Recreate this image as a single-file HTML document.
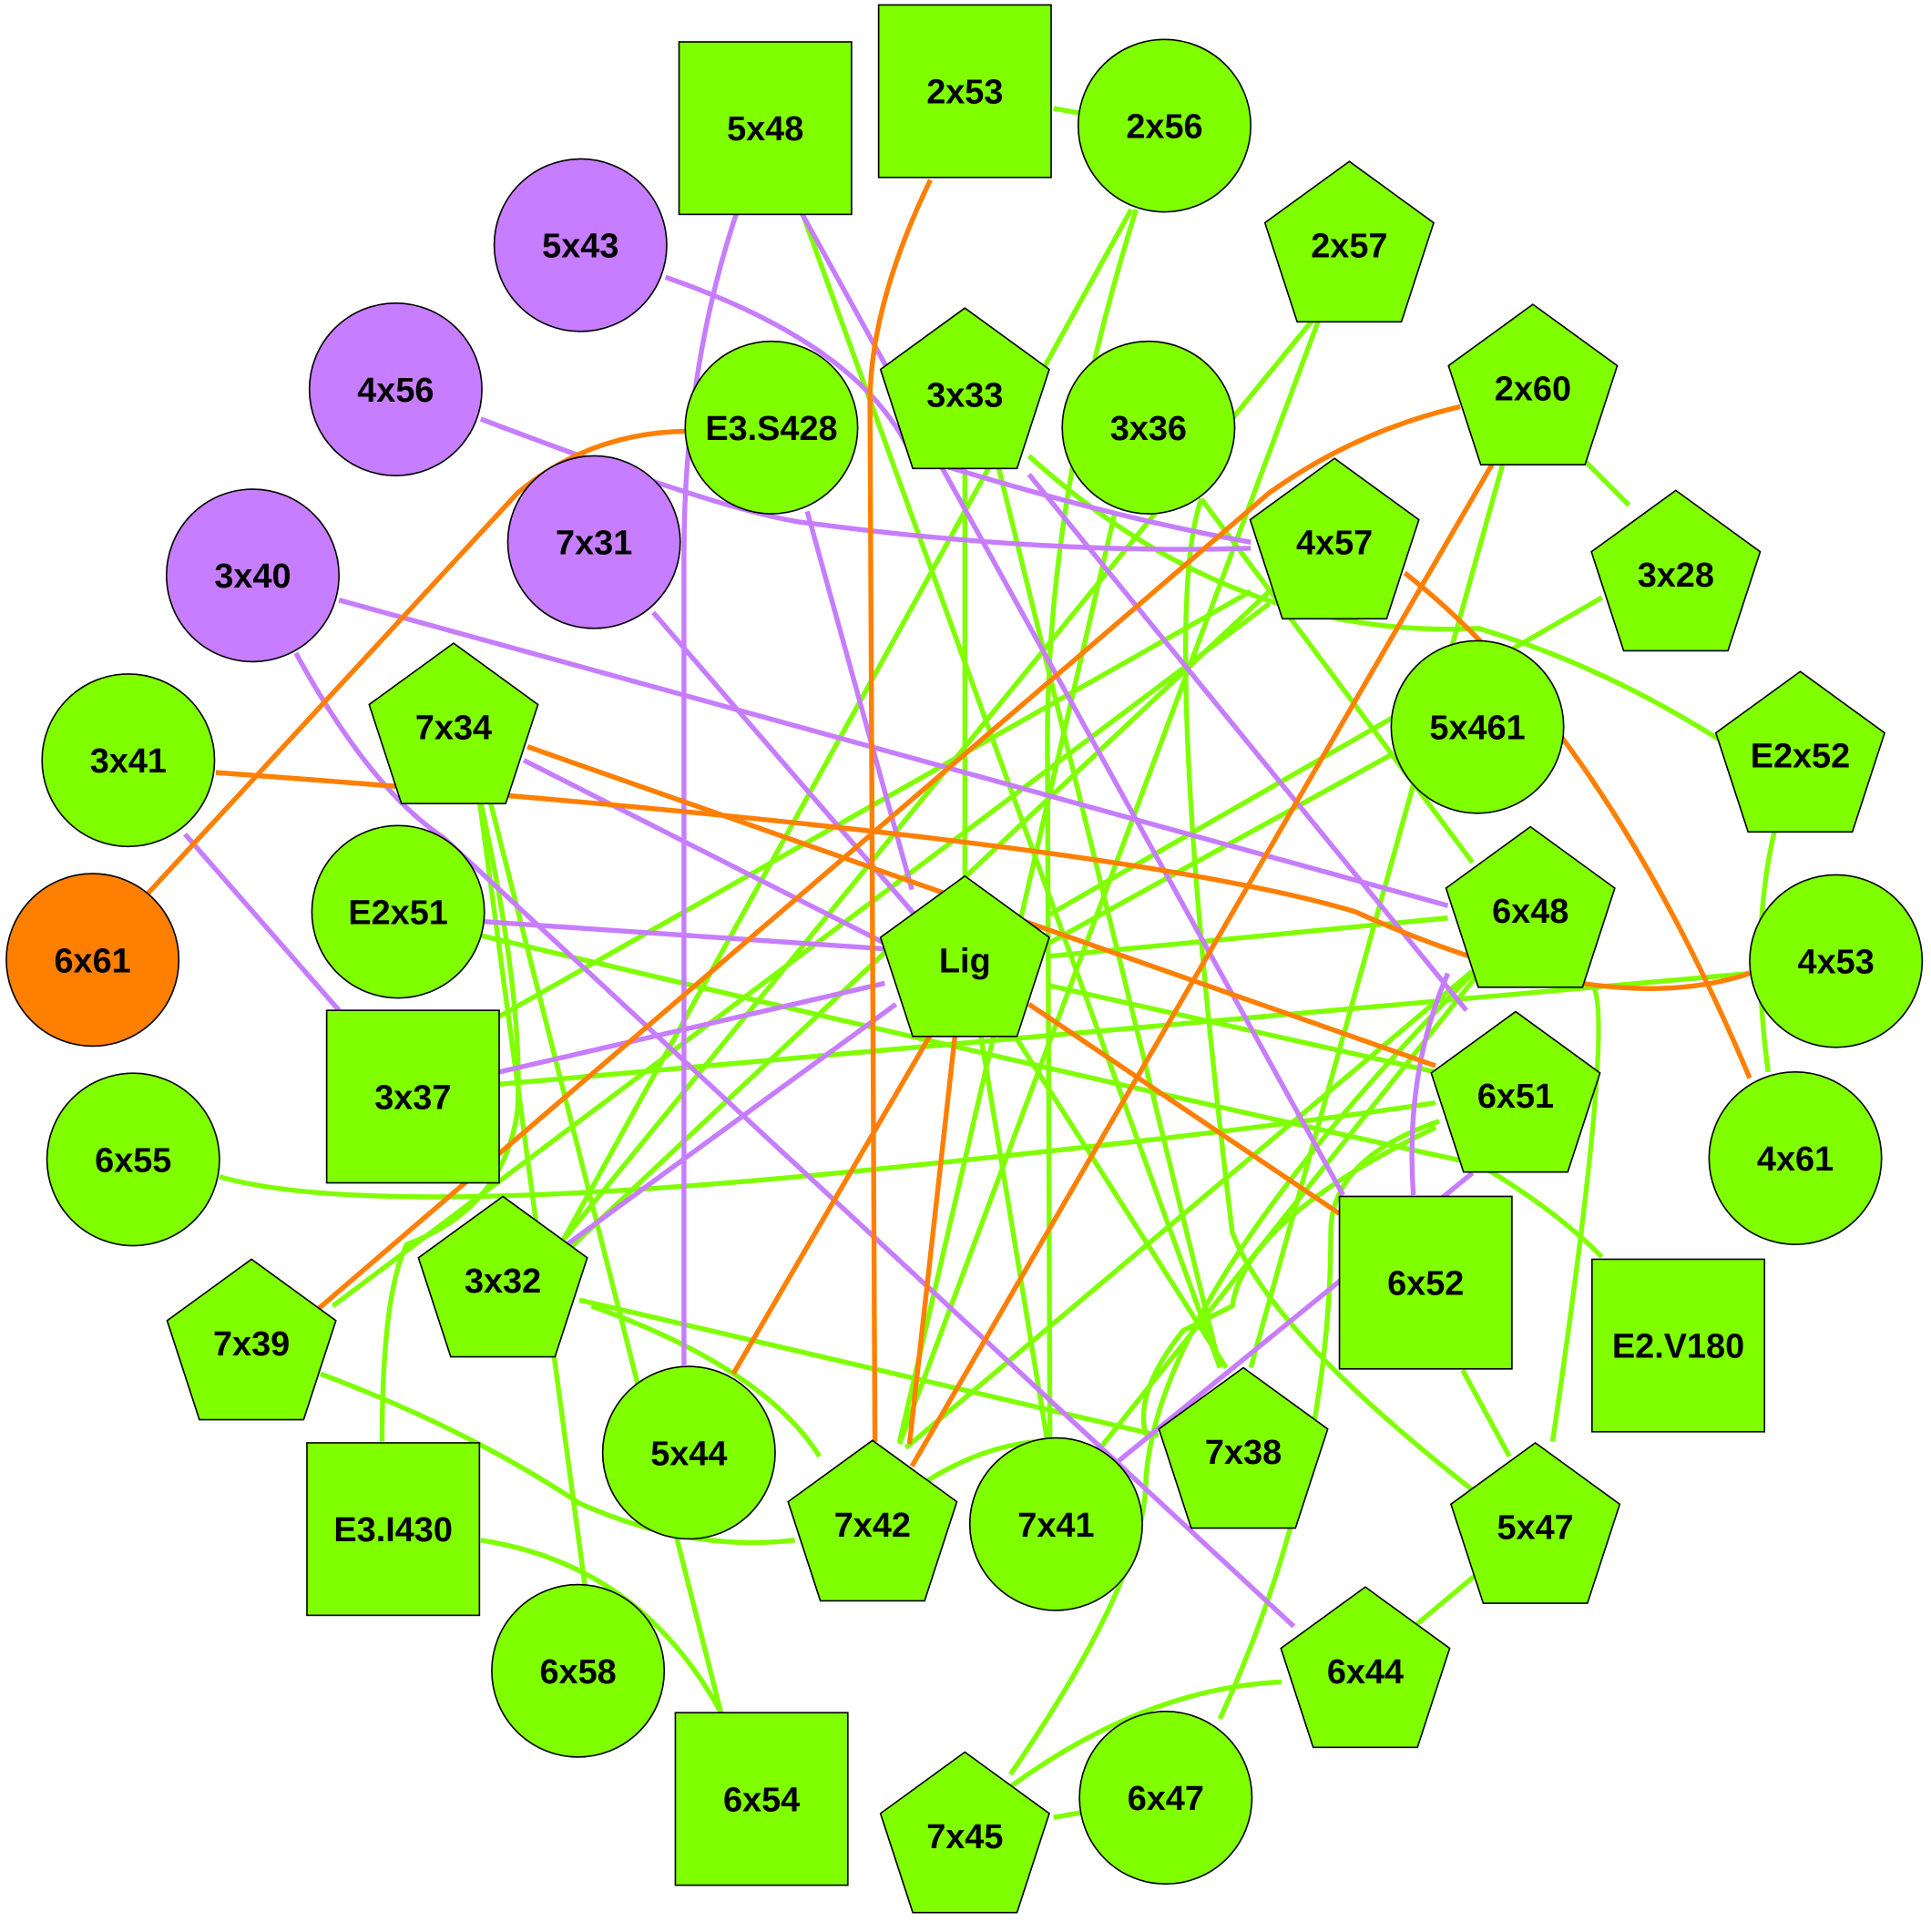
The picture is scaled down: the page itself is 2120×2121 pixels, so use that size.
<!DOCTYPE html>
<html><head><meta charset="utf-8"><style>html,body{margin:0;padding:0;background:#fff}svg{display:block}</style></head><body>
<svg width="2120" height="2121" viewBox="0 0 1567 1568" xmlns="http://www.w3.org/2000/svg">
<g fill="none" stroke-width="4">
<g stroke="#7fff00">
<path d="M855,88 L878,92"/>
<path d="M918,170 L455,1010"/>
<path d="M922,170 Q850,400 850,600 Q850,900 852,1168"/>
<path d="M1070,260 L730,1172"/>
<path d="M1065,260 L450,1015"/>
<path d="M1285,373 L1322,410"/>
<path d="M1220,375 L1015,1110"/>
<path d="M783,378 L783,712"/>
<path d="M810,378 L990,1110"/>
<path d="M835,370 Q1000,520 1200,510 Q1300,540 1395,600"/>
<path d="M905,415 L730,1170"/>
<path d="M975,405 L1195,700"/>
<path d="M1030,480 L455,1020"/>
<path d="M1015,480 L405,825"/>
<path d="M1300,485 L852,742"/>
<path d="M1130,612 L852,765"/>
<path d="M1175,745 L852,776"/>
<path d="M1195,788 L735,1175"/>
<path d="M1200,790 L885,1185"/>
<path d="M1293,800 Q1310,830 1260,1170"/>
<path d="M1420,790 L405,880"/>
<path d="M1440,675 Q1420,760 1435,870"/>
<path d="M852,800 L1165,870"/>
<path d="M795,835 L850,1170"/>
<path d="M820,835 L995,1110"/>
<path d="M650,170 L990,1110"/>
<path d="M385,758 Q900,880 1200,945 Q1260,980 1300,1020"/>
<path d="M178,955 Q300,990 700,950 Q1000,920 1165,895"/>
<path d="M1168,910 Q1080,940 1080,1000 Q1080,1200 990,1395"/>
<path d="M1165,915 Q1010,990 1000,1060 L960,1080 Q920,1130 930,1165"/>
<path d="M385,620 L475,1290"/>
<path d="M390,620 L585,1390"/>
<path d="M383,620 Q425,800 420,900 Q410,980 330,1010 Q310,1050 310,1170"/>
<path d="M470,1055 L940,1165"/>
<path d="M480,1060 Q620,1110 665,1182"/>
<path d="M260,1115 Q380,1160 470,1220 Q560,1260 645,1250"/>
<path d="M270,1060 L1030,490"/>
<path d="M390,1250 Q520,1270 585,1390"/>
<path d="M1198,1278 L1150,1318"/>
<path d="M1187,1112 L1225,1182"/>
<path d="M1040,1365 Q930,1370 820,1450"/>
<path d="M855,1475 L878,1471"/>
<path d="M820,1440 Q930,1280 930,1200 Q940,1050 1195,790"/>
<path d="M1196,1210 Q1030,1080 1000,1000 Q940,500 975,405"/>
<path d="M740,1210 Q790,1175 840,1170"/>
</g>
<g stroke="#c77dff">
<path d="M540,225 Q700,280 740,370 Q900,420 1015,440"/>
<path d="M390,340 Q600,420 660,425 Q850,450 1015,445"/>
<path d="M598,172 Q555,300 555,450 L555,1108"/>
<path d="M650,172 L1090,970"/>
<path d="M655,415 L740,722"/>
<path d="M530,497 L742,742"/>
<path d="M275,487 L1175,735"/>
<path d="M240,530 Q300,640 360,680 L1050,1320"/>
<path d="M150,677 L275,820"/>
<path d="M425,617 L717,765"/>
<path d="M393,748 L717,770"/>
<path d="M405,870 L718,798"/>
<path d="M460,1010 L727,815"/>
<path d="M1195,952 L900,1192"/>
<path d="M835,385 L1190,820"/>
<path d="M1175,790 Q1140,870 1147,970"/>
</g>
<g stroke="#ff7f00">
<path d="M755,146 Q705,250 706,330 L710,1170"/>
<path d="M560,350 Q480,350 420,400 L120,725"/>
<path d="M1185,330 Q1100,350 1030,400 L255,1065"/>
<path d="M1212,375 L740,1190"/>
<path d="M1140,465 Q1300,590 1420,875"/>
<path d="M175,627 Q900,680 1100,740 Q1300,830 1420,790"/>
<path d="M428,606 L1165,865"/>
<path d="M835,815 L1087,985"/>
<path d="M755,840 L595,1115"/>
<path d="M775,840 L738,1172"/>
</g>
</g>
<g stroke="#000" stroke-width="1.2" font-family="Liberation Sans, sans-serif" font-weight="bold" font-size="28" text-anchor="middle">
<g fill="#7fff00">
<circle cx="945" cy="102" r="70"/><circle cx="626" cy="347" r="70"/><circle cx="932" cy="347" r="70"/>
<circle cx="104" cy="617" r="70"/><circle cx="1199" cy="590" r="70"/><circle cx="323" cy="740" r="70"/>
<circle cx="1490" cy="780" r="70"/><circle cx="1457" cy="940" r="70"/><circle cx="108" cy="941" r="70"/>
<circle cx="559" cy="1179" r="70"/><circle cx="857" cy="1237" r="70"/><circle cx="469" cy="1356" r="70"/>
<circle cx="946" cy="1459" r="70"/>
<rect x="551" y="34" width="140" height="140"/><rect x="713" y="4" width="140" height="140"/>
<rect x="265" y="820" width="140" height="140"/><rect x="1087" y="971" width="140" height="140"/>
<rect x="1292" y="1022" width="140" height="140"/><rect x="249" y="1171" width="140" height="140"/>
<rect x="548" y="1390" width="140" height="140"/>
</g>
<g fill="#c77dff">
<circle cx="471" cy="199" r="70"/><circle cx="321" cy="316" r="70"/><circle cx="482" cy="440" r="70"/><circle cx="205" cy="467" r="70"/>
</g>
<circle cx="75" cy="779" r="70" fill="#ff7f00"/>
<g fill="#7fff00">
<defs><polygon id="pg" points="0,-72 68.5,-22.2 42.3,58.2 -42.3,58.2 -68.5,-22.2"/></defs>
<use href="#pg" x="1095" y="203"/><use href="#pg" x="783" y="322"/><use href="#pg" x="1244" y="319"/>
<use href="#pg" x="1083" y="444"/><use href="#pg" x="1360" y="470"/><use href="#pg" x="1461" y="617"/>
<use href="#pg" x="368" y="594"/><use href="#pg" x="783" y="783"/><use href="#pg" x="1242" y="743"/>
<use href="#pg" x="1230" y="893"/><use href="#pg" x="408" y="1043"/><use href="#pg" x="204" y="1094"/>
<use href="#pg" x="1009" y="1182"/><use href="#pg" x="708" y="1241"/><use href="#pg" x="1246" y="1243"/>
<use href="#pg" x="1108" y="1360"/><use href="#pg" x="783" y="1494"/>
</g>
<g fill="#000" stroke="none">
<text x="945" y="112">2x56</text><text x="626" y="357">E3.S428</text><text x="932" y="357">3x36</text>
<text x="104" y="627">3x41</text><text x="1199" y="600">5x461</text><text x="323" y="750">E2x51</text>
<text x="1490" y="790">4x53</text><text x="1457" y="950">4x61</text><text x="108" y="951">6x55</text>
<text x="559" y="1189">5x44</text><text x="857" y="1247">7x41</text><text x="469" y="1366">6x58</text>
<text x="946" y="1469">6x47</text>
<text x="621" y="114">5x48</text><text x="783" y="84">2x53</text><text x="335" y="900">3x37</text>
<text x="1157" y="1051">6x52</text><text x="1362" y="1102">E2.V180</text><text x="319" y="1251">E3.I430</text>
<text x="618" y="1470">6x54</text>
<text x="471" y="209">5x43</text><text x="321" y="326">4x56</text><text x="482" y="450">7x31</text><text x="205" y="477">3x40</text>
<text x="75" y="789">6x61</text>
<text x="1095" y="209">2x57</text><text x="783" y="330">3x33</text><text x="1244" y="325">2x60</text>
<text x="1083" y="450">4x57</text><text x="1360" y="476">3x28</text><text x="1461" y="623">E2x52</text>
<text x="368" y="600">7x34</text><text x="783" y="789">Lig</text><text x="1242" y="749">6x48</text>
<text x="1230" y="899">6x51</text><text x="408" y="1049">3x32</text><text x="204" y="1100">7x39</text>
<text x="1009" y="1188">7x38</text><text x="708" y="1247">7x42</text><text x="1246" y="1249">5x47</text>
<text x="1108" y="1366">6x44</text><text x="783" y="1500">7x45</text>
</g>
</g>
</svg>
</body></html>
